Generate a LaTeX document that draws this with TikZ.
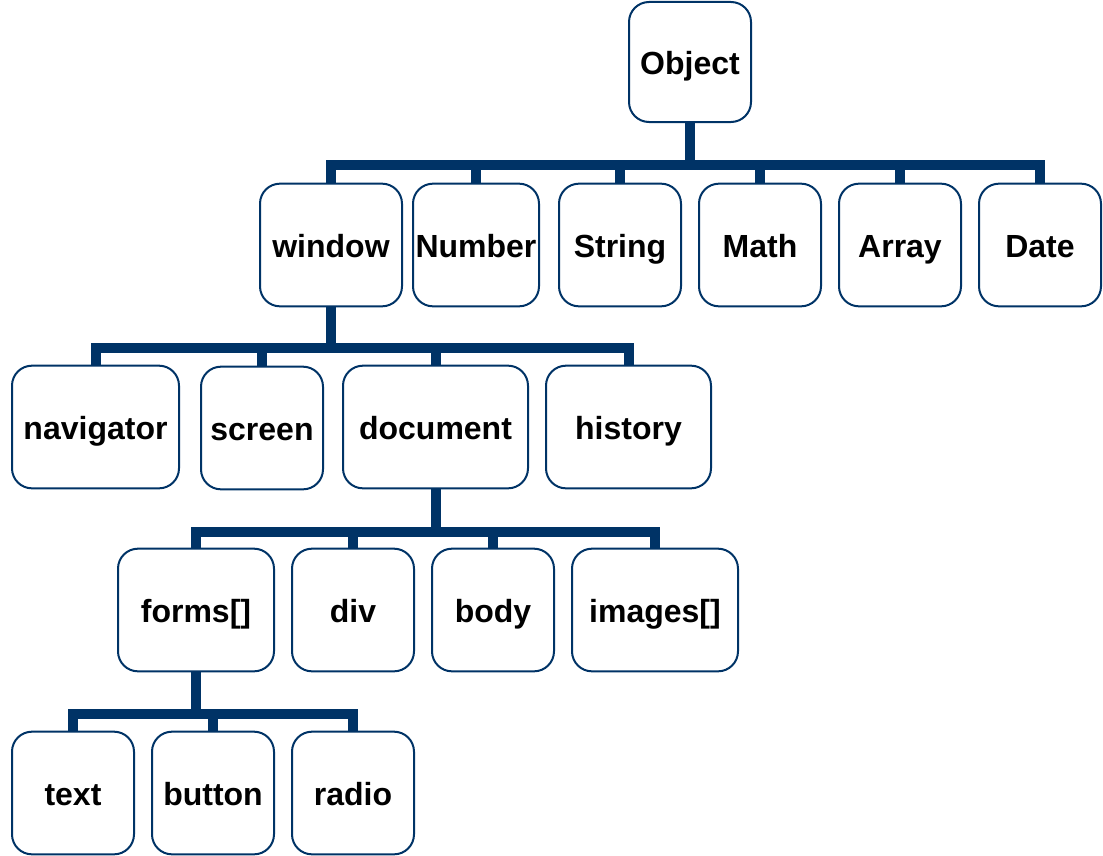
\documentclass[tikz,border=0pt]{standalone}
\usepackage{fontspec}
\setmainfont{Liberation Sans}
\usetikzlibrary{positioning}

\definecolor{navy}{HTML}{003366}

\tikzset{
    box/.style={draw=navy, line width=1.5pt, rounded corners=15pt, fill=white,
        minimum width=91.5pt, minimum height=92pt, inner sep=0pt,
        text height=22pt, text depth=3.2pt,
        font=\fontsize{24}{28}\selectfont\bfseries},
    link/.style={draw=navy, line width=7.5pt, line join=miter}
}

\begin{document}
\begin{tikzpicture}[x=0.75pt, y=-0.75pt]
    \useasboundingbox (0,0) rectangle (1103,856);

    % Heights of the horizontal bars
    \coordinate (bar1) at (0,165);
    \coordinate (bar2) at (0,348);
    \coordinate (bar3) at (0,532);
    \coordinate (bar4) at (0,714);

    % Top level
    \node[box, minimum height=90pt] (obj) at (690,62) {Object};

    % Second row
    \node[box, minimum width=106.5pt] (window) at (331,245) {window};
    \node[box, minimum width=94.5pt] (number) at (476,245) {Number};
    \node[box] (string) at (620,245) {String};
    \node[box] (math) at (760,245) {Math};
    \node[box] (array) at (900,245) {Array};
    \node[box] (date) at (1040,245) {Date};

    % Third row
    \node[box, minimum width=125.25pt] (navigator) at (95.5,427) {navigator};
    \node[box] (screen) at (262,428) {screen};
    \node[box, minimum width=138.75pt] (document) at (435.5,427) {document};
    \node[box, minimum width=123.75pt] (history) at (628.5,427) {history};

    % Fourth row
    \node[box, minimum width=117pt] (forms) at (196,610) {forms[]};
    \node[box] (div) at (353,610) {div};
    \node[box] (body) at (493,610) {body};
    \node[box, minimum width=124.5pt] (images) at (655,610) {images[]};

    % Bottom row
    \node[box] (text) at (73,793) {text};
    \node[box] (button) at (213,793) {button};
    \node[box] (radio) at (353,793) {radio};

    % Object -> second row
    \draw[link] (obj.south) -- (obj.south |- bar1);
    \draw[link] (window.north) -- (window.north |- bar1) -- (date.north |- bar1) -- (date.north);
    \draw[link] (number.north) -- (number.north |- bar1);
    \draw[link] (string.north) -- (string.north |- bar1);
    \draw[link] (math.north) -- (math.north |- bar1);
    \draw[link] (array.north) -- (array.north |- bar1);

    % window -> third row
    \draw[link] (window.south) -- (window.south |- bar2);
    \draw[link] (navigator.north) -- (navigator.north |- bar2) -- (history.north |- bar2) -- (history.north);
    \draw[link] (screen.north) -- (screen.north |- bar2);
    \draw[link] (document.north) -- (document.north |- bar2);

    % document -> fourth row
    \draw[link] (document.south) -- (document.south |- bar3);
    \draw[link] (forms.north) -- (forms.north |- bar3) -- (images.north |- bar3) -- (images.north);
    \draw[link] (div.north) -- (div.north |- bar3);
    \draw[link] (body.north) -- (body.north |- bar3);

    % forms[] -> bottom row
    \draw[link] (forms.south) -- (forms.south |- bar4);
    \draw[link] (text.north) -- (text.north |- bar4) -- (radio.north |- bar4) -- (radio.north);
    \draw[link] (button.north) -- (button.north |- bar4);
\end{tikzpicture}
\end{document}
